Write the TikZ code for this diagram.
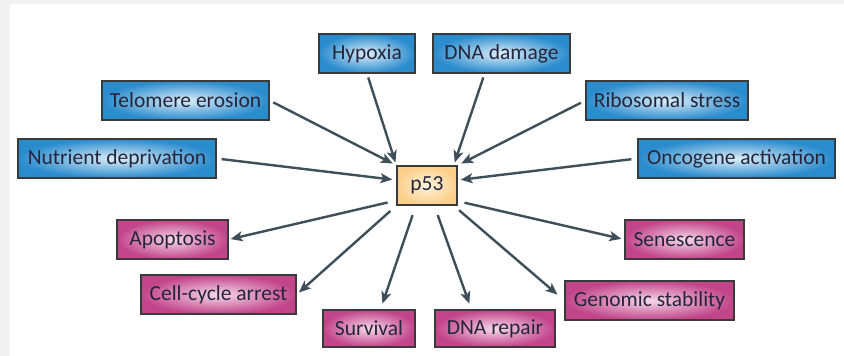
\documentclass[tikz,border=0pt]{standalone}
\usepackage{fontspec}
\setmainfont{Carlito}
\usetikzlibrary{arrows.meta}
\definecolor{bgrey}{HTML}{F1F1F1}
\definecolor{blueout}{HTML}{2A8BCD}
\definecolor{bluein}{HTML}{DCEEFA}
\definecolor{pinkout}{HTML}{C2458A}
\definecolor{pinkin}{HTML}{F6D8EA}
\definecolor{p53out}{HTML}{FBCF8A}
\definecolor{p53in}{HTML}{FFF4DE}
\definecolor{edgegrey}{HTML}{3A3A3A}
\definecolor{txt}{HTML}{26263A}
\definecolor{arrowcol}{HTML}{3E4F59}
\begin{document}
\begin{tikzpicture}[x=1pt,y=-1pt,
  box/.style={draw=edgegrey,line width=1.3pt,inner sep=0pt,minimum height=39pt,
    text=txt,font=\fontsize{21.5}{25}\selectfont},
  inbox/.style={box,inner color=bluein,outer color=blueout},
  outbox/.style={box,inner color=pinkin,outer color=pinkout},
  hubbox/.style={box,inner color=p53in,outer color=p53out},
  conn/.style={draw=arrowcol,line width=2.4pt,-{Stealth[length=12pt,width=10pt,inset=3pt]}}
]
\fill[bgrey] (0,0) rectangle (844,356);
\fill[white] (10,4) rectangle (844,356);
\useasboundingbox (0,0) rectangle (844,356);

% input nodes
\node[inbox,minimum width=96pt]  (hyp) at (367,53.5)   {Hypoxia};
\node[inbox,minimum width=137pt] (dna) at (501.5,53.5) {DNA damage};
\node[inbox,minimum width=167pt] (tel) at (185.5,100.5) {Telomere erosion};
\node[inbox,minimum width=162pt] (rib) at (667,100.5)  {Ribosomal stress};
\node[inbox,minimum width=198pt] (nut) at (117,158.5)  {Nutrient deprivation};
\node[inbox,minimum width=197pt] (onc) at (736.5,158.5) {Oncogene activation};

% hub
\node[hubbox,minimum width=60pt] (p53) at (427,185.5) {p53};

% output nodes
\node[outbox,minimum width=111pt] (apo) at (172.5,239.5) {Apoptosis};
\node[outbox,minimum width=119pt] (sen) at (684.5,239.5) {Senescence};
\node[outbox,minimum width=155pt] (cca) at (218.5,294.5) {Cell-cycle arrest};
\node[outbox,minimum width=169pt] (gen) at (649.5,300.5) {Genomic stability};
\node[outbox,minimum width=92pt,minimum height=37pt]  (sur) at (369,328.5) {Survival};
\node[outbox,minimum width=120pt,minimum height=37pt] (rep) at (495,328.5) {DNA repair};

% incoming arrows
\draw[conn,shorten <=4pt,shorten >=3pt] (hyp.south) -- (p53.north west);
\draw[conn,shorten <=4pt,shorten >=3pt] (dna.230) -- (p53.37);
\draw[conn,shorten <=4pt,shorten >=4pt] (tel.east) -- (p53.north west);
\draw[conn,shorten <=5pt,shorten >=4pt] (rib.west) -- (p53.north east);
\draw[conn,shorten <=5pt,shorten >=4pt] (nut.east) -- (p53.170);
\draw[conn,shorten <=6pt,shorten >=3pt] (onc.west) -- (p53.10);

% outgoing arrows
\draw[conn,shorten <=9pt,shorten >=2pt] (p53.206) -- (apo.east);
\draw[conn,shorten <=8pt,shorten >=3pt] (p53.south west) -- (cca.east);
\draw[conn,shorten <=10pt,shorten >=6pt] (p53.241) -- (sur.59);
\draw[conn,shorten <=10pt,shorten >=6pt] (p53.290) -- (rep.141);
\draw[conn,shorten <=7pt,shorten >=9pt] (p53.323) -- (gen.west);
\draw[conn,shorten <=7pt,shorten >=3pt] (p53.333) -- (sen.west);
\end{tikzpicture}
\end{document}
